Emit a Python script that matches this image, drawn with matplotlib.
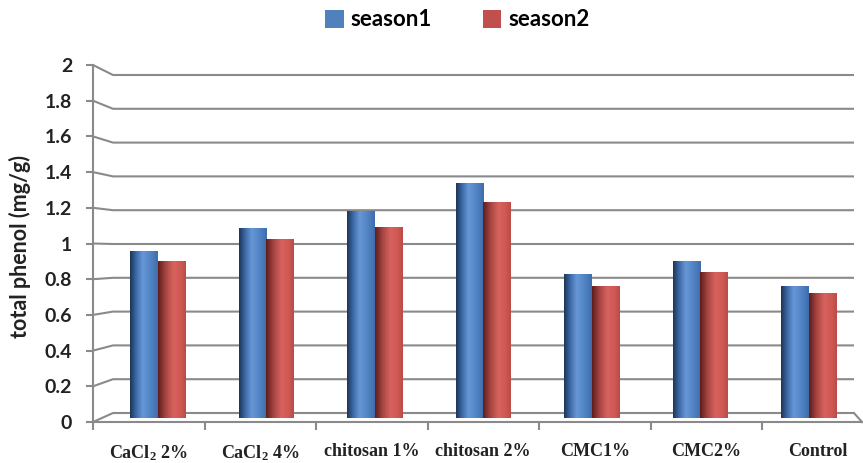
import numpy as np
import matplotlib
matplotlib.use("Agg")
import matplotlib.pyplot as plt
from matplotlib.colors import LinearSegmentedColormap

plt.rcParams["mathtext.fontset"] = "custom"
plt.rcParams["mathtext.rm"] = "Liberation Serif:bold"
plt.rcParams["mathtext.it"] = "Liberation Serif:bold"
plt.rcParams["mathtext.bf"] = "Liberation Serif:bold"

categories = ["CaCl$_2$ 2%", "CaCl$_2$ 4%", "chitosan 1%", "chitosan 2%", "CMC1%", "CMC2%", "Control"]
season1 = [0.96, 1.09, 1.19, 1.35, 0.83, 0.90, 0.76]
season2 = [0.90, 1.03, 1.10, 1.24, 0.76, 0.84, 0.72]
ytick_values = [0, 0.2, 0.4, 0.6, 0.8, 1, 1.2, 1.4, 1.6, 1.8, 2]
ytick_labels = ["0", "0.2", "0.4", "0.6", "0.8", "1", "1.2", "1.4", "1.6", "1.8", "2"]

W, H = 863, 463
fig = plt.figure(figsize=(W / 100, H / 100), dpi=100)

# pixel layout of the fake 3d box (Excel style)
ax_l, ax_r, ax_t, ax_b = 93, 862, 65, 422
bar_x0, bar_dx = 157.7, 108.5       # bar plane: category centres
bar_y0, bar_dy = 418, 174           # bar plane: value scale
front_y0, front_dy = 422, 178.5     # front wall value scale
back_y0, back_dy = 413, 169         # back wall value scale
back_l, back_r = 113, 854
front_cat_w = 111.5

def xd(px):
    return (px - bar_x0) / bar_dx

def yd(py):
    return (bar_y0 - py) / bar_dy

ax = fig.add_axes([ax_l / W, 1 - ax_b / H, (ax_r - ax_l) / W, (ax_b - ax_t) / H])
xlim = (xd(ax_l), xd(ax_r))
ylim = (yd(ax_b), yd(ax_t))

grid_c = "#8a8a8a"
# perspective gridlines
for v in ytick_values:
    fy = yd(front_y0 - front_dy * v)
    by = yd(back_y0 - back_dy * v)
    ax.plot([xd(ax_l), xd(back_l), xd(back_r)], [fy, by, by],
            color=grid_c, lw=1.5, clip_on=False, zorder=1, solid_capstyle="butt")
# floor right edge
ax.plot([xd(back_r), xd(ax_r)], [yd(back_y0), yd(front_y0)], color=grid_c, lw=1.5,
        clip_on=False, zorder=1)

x = np.arange(len(categories))
w = 27.5 / bar_dx
b1 = ax.bar(x - w / 2, season1, w, color="#4F81BD", label="season1", zorder=3)
b2 = ax.bar(x + w / 2, season2, w, color="#C0504D", label="season2", zorder=3)

cm_blue = LinearSegmentedColormap.from_list(
    "b", [(0, "#1c3557"), (0.2, "#3a66a2"), (0.45, "#6797d6"), (0.7, "#5487c8"), (1, "#3f6dab")])
cm_red = LinearSegmentedColormap.from_list(
    "r", [(0, "#5e1d1b"), (0.25, "#a24340"), (0.55, "#d8625e"), (0.8, "#d05955"), (1, "#bb4c48")])
grad = np.linspace(0, 1, 64).reshape(1, -1)
for bars, cm in ((b1, cm_blue), (b2, cm_red)):
    for bar in bars:
        bx, by = bar.get_x(), bar.get_y()
        bw, bh = bar.get_width(), bar.get_height()
        im = ax.imshow(grad, extent=[bx, bx + bw, by, by + bh], cmap=cm,
                       aspect="auto", zorder=3.5, interpolation="bicubic")
        im.set_clip_path(bar)

ax.set_xlim(*xlim)
ax.set_ylim(*ylim)

for s in ["top", "right"]:
    ax.spines[s].set_visible(False)
for s in ["left", "bottom"]:
    ax.spines[s].set_color(grid_c)
    ax.spines[s].set_linewidth(1.5)

yt = [yd(front_y0 - front_dy * v) for v in ytick_values]
ax.set_yticks(yt, ytick_labels, fontsize=14, fontweight="bold", family="Lato", color="#222222")
ax.tick_params(axis="y", length=5, width=1.5, color=grid_c, pad=10)

xt = [xd(ax_l + front_cat_w * (i + 0.5)) for i in range(len(categories))]
ax.set_xticks(xt, categories, fontsize=13, fontweight="bold",
              family="Liberation Serif", color="#222222")
ax.set_xticks([xd(ax_l + front_cat_w * k) for k in range(len(categories))], minor=True)
ax.tick_params(axis="x", which="major", length=0, pad=15)
ax.tick_params(axis="x", which="minor", length=6, width=1.5, color=grid_c)

fig.text(20 / W, 1 - 247 / H, "total phenol (mg/g)", rotation=90, ha="center", va="center",
         fontsize=15.5, fontweight="bold", family="Lato", color="#222222")

fig.legend(handles=[b1, b2], loc="center", bbox_to_anchor=(457 / W, 1 - 20 / H), ncol=2,
           frameon=False, handlelength=0.85, handleheight=0.85, handletextpad=0.3,
           columnspacing=2.3, prop={"family": "Lato", "weight": "bold", "size": 16})

fig.savefig("out.png", dpi=100)
